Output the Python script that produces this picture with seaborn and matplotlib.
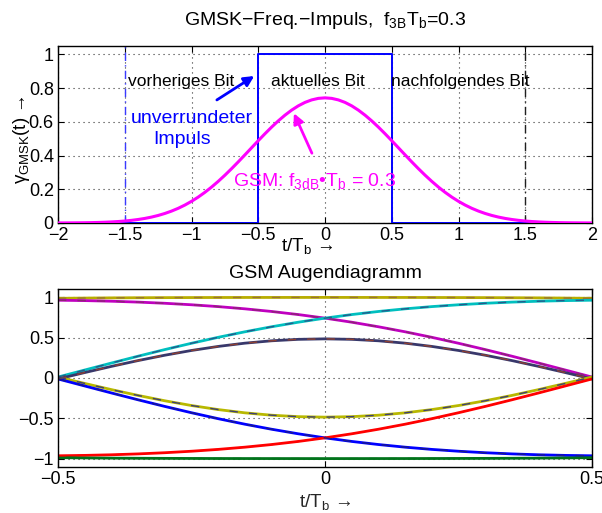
import numpy as np
import pandas as pd
import matplotlib
matplotlib.use("Agg")
import matplotlib.pyplot as plt
import seaborn as sns

# ---------------- data ----------------
pulse_t = [-2.0, -1.95, -1.9, -1.85, -1.8, -1.75, -1.7, -1.65, -1.6, -1.55,
           -1.5, -1.45, -1.4, -1.35, -1.3, -1.25, -1.2, -1.15, -1.1, -1.05,
           -1.0, -0.95, -0.9, -0.85, -0.8, -0.75, -0.7, -0.65, -0.6, -0.55,
           -0.5, -0.45, -0.4, -0.35, -0.3, -0.25, -0.2, -0.15, -0.1, -0.05,
           0.0, 0.05, 0.1, 0.15, 0.2, 0.25, 0.3, 0.35, 0.4, 0.45,
           0.5, 0.55, 0.6, 0.65, 0.7, 0.75, 0.8, 0.85, 0.9, 0.95,
           1.0, 1.05, 1.1, 1.15, 1.2, 1.25, 1.3, 1.35, 1.4, 1.45,
           1.5, 1.55, 1.6, 1.65, 1.7, 1.75, 1.8, 1.85, 1.9, 1.95, 2.0]
pulse_y = [0.0003, 0.0005, 0.0008, 0.0011, 0.0016, 0.0023, 0.0033, 0.0046, 0.0064, 0.0087,
           0.0118, 0.0157, 0.0208, 0.0271, 0.0350, 0.0447, 0.0565, 0.0705, 0.0870, 0.1063,
           0.1285, 0.1536, 0.1818, 0.2129, 0.2469, 0.2834, 0.3221, 0.3625, 0.4041, 0.4462,
           0.4882, 0.5293, 0.5688, 0.6058, 0.6396, 0.6695, 0.6950, 0.7154, 0.7302, 0.7393,
           0.7424, 0.7393, 0.7302, 0.7154, 0.6950, 0.6695, 0.6396, 0.6058, 0.5688, 0.5293,
           0.4882, 0.4462, 0.4041, 0.3625, 0.3221, 0.2834, 0.2469, 0.2129, 0.1818, 0.1536,
           0.1285, 0.1063, 0.0870, 0.0705, 0.0565, 0.0447, 0.0350, 0.0271, 0.0208, 0.0157,
           0.0118, 0.0087, 0.0064, 0.0046, 0.0033, 0.0023, 0.0016, 0.0011, 0.0008, 0.0005, 0.0003]

rect_t = [-2.0, -0.5, -0.5, 0.5, 0.5, 2.0]
rect_y = [0.0, 0.0, 1.0, 1.0, 0.0, 0.0]
bit_bounds = [-1.5, 1.5]

eye_t = [-0.5, -0.45, -0.4, -0.35, -0.3, -0.25, -0.2, -0.15, -0.1, -0.05, 0.0,
         0.05, 0.1, 0.15, 0.2, 0.25, 0.3, 0.35, 0.4, 0.45, 0.5]
eye_ppp = [0.9882, 0.9912, 0.9937, 0.9954, 0.9967, 0.9976, 0.9984, 0.9988, 0.9990, 0.9992, 0.9994,
           0.9992, 0.9990, 0.9988, 0.9984, 0.9976, 0.9967, 0.9954, 0.9937, 0.9912, 0.9882]
eye_ppm = [0.9646, 0.9598, 0.9521, 0.9412, 0.9267, 0.9082, 0.8854, 0.8578, 0.8250, 0.7866, 0.7424,
           0.6920, 0.6354, 0.5730, 0.5046, 0.4308, 0.3525, 0.2704, 0.1855, 0.0988, 0.0118]
eye_mpp = [0.0118, 0.0988, 0.1855, 0.2704, 0.3525, 0.4308, 0.5046, 0.5730, 0.6354, 0.6920, 0.7424,
           0.7866, 0.8250, 0.8578, 0.8854, 0.9082, 0.9267, 0.9412, 0.9521, 0.9598, 0.9646]
eye_mpm = [-0.0118, 0.0674, 0.1439, 0.2162, 0.2825, 0.3414, 0.3916, 0.4320, 0.4614, 0.4794, 0.4854,
           0.4794, 0.4614, 0.4320, 0.3916, 0.3414, 0.2825, 0.2162, 0.1439, 0.0674, -0.0118]
eye_pmp = [0.0118, -0.0674, -0.1439, -0.2162, -0.2825, -0.3414, -0.3916, -0.4320, -0.4614, -0.4794, -0.4854,
           -0.4794, -0.4614, -0.4320, -0.3916, -0.3414, -0.2825, -0.2162, -0.1439, -0.0674, 0.0118]
eye_pmm = [-0.0118, -0.0988, -0.1855, -0.2704, -0.3525, -0.4308, -0.5046, -0.5730, -0.6354, -0.6920, -0.7424,
           -0.7866, -0.8250, -0.8578, -0.8854, -0.9082, -0.9267, -0.9412, -0.9521, -0.9598, -0.9646]
eye_mmp = [-0.9646, -0.9598, -0.9521, -0.9412, -0.9267, -0.9082, -0.8854, -0.8578, -0.8250, -0.7866, -0.7424,
           -0.6920, -0.6354, -0.5730, -0.5046, -0.4308, -0.3525, -0.2704, -0.1855, -0.0988, -0.0118]
eye_mmm = [-0.9882, -0.9912, -0.9937, -0.9954, -0.9967, -0.9976, -0.9984, -0.9988, -0.9990, -0.9992, -0.9994,
           -0.9992, -0.9990, -0.9988, -0.9984, -0.9976, -0.9967, -0.9954, -0.9937, -0.9912, -0.9882]

top_xticks = [-2, -1.5, -1, -0.5, 0, 0.5, 1, 1.5, 2]
top_xticklabels = ["\u22122", "\u22121.5", "\u22121", "\u22120.5", "0", "0.5", "1", "1.5", "2"]
top_yticks = [0, 0.2, 0.4, 0.6, 0.8, 1]
top_yticklabels = ["0", "0.2", "0.4", "0.6", "0.8", "1"]
bot_xticks = [-0.5, 0, 0.5]
bot_xticklabels = ["\u22120.5", "0", "0.5"]
bot_yticks = [-1, -0.5, 0, 0.5, 1]
bot_yticklabels = ["\u22121", "\u22120.5", "0", "0.5", "1"]

# ---------------- style ----------------
sns.set_style("white")
plt.rcParams['font.family'] = ['Liberation Sans', 'DejaVu Sans']
plt.rcParams['mathtext.fontset'] = 'custom'
plt.rcParams['mathtext.rm'] = 'Liberation Sans'
plt.rcParams['mathtext.it'] = 'Liberation Sans:italic'
plt.rcParams['mathtext.sf'] = 'Liberation Sans'
plt.rcParams['text.color'] = 'black'

FS = 13      # ticks / axis labels
FT = 14      # titles
FB = 14      # coloured annotations
FN = 12.5    # black annotations

fig = plt.figure(figsize=(6.02, 5.13), dpi=100)
W, H = 602.0, 513.0
ax1 = fig.add_axes([58 / W, 1 - 223 / H, (592 - 58) / W, (223 - 46) / H])
ax2 = fig.add_axes([58 / W, 1 - 466.7 / H, (592 - 58) / W, (466.7 - 289.3) / H])


def matlab_axes(ax, xticks, xlabels, yticks, ylabels):
    ax.set_xticks(xticks)
    ax.set_xticklabels(xlabels, fontsize=FS)
    ax.set_yticks(yticks)
    ax.set_yticklabels(ylabels, fontsize=FS)
    ax.tick_params(direction='in', length=4, width=0.8, top=True, right=True,
                   bottom=True, left=True, colors='black', pad=3)
    ax.grid(True, linestyle=(0, (1, 3.5)), color='#333333', linewidth=0.8)
    for s in ax.spines.values():
        s.set_color('black')
        s.set_linewidth(1.0)
        s.set_visible(True)


# ---------------- top panel ----------------
pulse_df = pd.DataFrame({'t': pulse_t, 'g': pulse_y})
rect_df = pd.DataFrame({'t': rect_t, 'r': rect_y})
for xb, col in zip(bit_bounds, ['#3a3aff', '#202020']):
    ax1.axvline(xb, color=col, linestyle=(0, (6, 3, 1, 3)), linewidth=1.0, zorder=2)
sns.lineplot(data=rect_df, x='t', y='r', ax=ax1, sort=False, estimator=None,
             color='#0000ff', linewidth=1.4, zorder=3)
sns.lineplot(data=pulse_df, x='t', y='g', ax=ax1, sort=False, estimator=None,
             color='#ff00ff', linewidth=2.2, zorder=4)
ax1.set_xlim(-2, 2)
ax1.set_ylim(0, 1.05)
matlab_axes(ax1, top_xticks, top_xticklabels, top_yticks, top_yticklabels)
ax1.set_xlabel('')
ax1.set_ylabel('')
ax1.set_title('GMSK\u2212Freq.\u2212Impuls,  f$_{\\mathrm{3B}}$T$_{\\mathrm{b}}$=0.3',
              fontsize=FT, pad=15)
fig.text(22 / W, 1 - 140 / H, '\u03b3$_{\\mathrm{GMSK}}$(t) \u2192', rotation=90,
         ha='center', va='center', fontsize=FS + 0.5)
fig.text(307 / W, 1 - 246 / H, 't/T$_{\\mathrm{b}}$ \u2192', ha='center', va='center',
         fontsize=FS + 0.5)

ax1.text(-1.077, 0.838, 'vorheriges Bit', ha='center', va='center', fontsize=FN)
ax1.text(-0.05, 0.838, 'aktuelles Bit', ha='center', va='center', fontsize=FN)
ax1.text(1.01, 0.838, 'nachfolgendes Bit', ha='center', va='center', fontsize=FN)
ax1.text(-0.997, 0.617, 'unverrundeter', ha='center', va='center', fontsize=FB,
         color='#0000ff')
ax1.text(-1.07, 0.493, 'Impuls', ha='center', va='center', fontsize=FB,
         color='#0000ff')
ax1.text(-0.075, 0.247, 'GSM: f$_{\\mathrm{3dB}}$\u2022T$_{\\mathrm{b}}$ = 0.3',
         ha='center', va='center', fontsize=FB, color='#ff00ff')
ax1.annotate('', xy=(-0.53, 0.872), xytext=(-0.81, 0.73),
             arrowprops=dict(arrowstyle='-|>', color='#0000ff', lw=2,
                             mutation_scale=15, shrinkA=0, shrinkB=0))
ax1.annotate('', xy=(-0.233, 0.651), xytext=(-0.098, 0.414),
             arrowprops=dict(arrowstyle='-|>', color='#ff00ff', lw=2,
                             mutation_scale=15, shrinkA=0, shrinkB=0))

# ---------------- bottom panel (eye diagram) ----------------
names = ['ppp', 'ppm', 'mpp', 'mpm', 'pmp', 'pmm', 'mmp', 'mmm']
eye_df = pd.DataFrame({'t': eye_t * 8,
                       'y': eye_ppp + eye_ppm + eye_mpp + eye_mpm +
                            eye_pmp + eye_pmm + eye_mmp + eye_mmm,
                       'trace': sum([[n] * len(eye_t) for n in names], [])})
main_pal = {'ppp': (0.72, 0.68, 0.0), 'ppm': (0.75, 0.0, 0.75), 'mpp': (0.0, 0.75, 0.75),
            'mpm': (0.22, 0.22, 0.42), 'pmp': (0.72, 0.72, 0.0), 'pmm': (0.0, 0.0, 1.0),
            'mmp': (1.0, 0.0, 0.0), 'mmm': (0.0, 0.45, 0.1)}
over_pal = {'ppp': (0.6, 0.45, 0.2), 'ppm': (0.55, 0.15, 0.45), 'mpp': (0.15, 0.35, 0.55),
            'mpm': (0.55, 0.25, 0.2), 'pmp': (0.25, 0.25, 0.45), 'pmm': (0.1, 0.1, 0.55),
            'mmp': (1.0, 0.0, 0.0), 'mmm': (0.0, 0.45, 0.1)}
sns.lineplot(data=eye_df, x='t', y='y', hue='trace', palette=main_pal, ax=ax2,
             estimator=None, units='trace', linewidth=2.0, legend=False)
sns.lineplot(data=eye_df, x='t', y='y', hue='trace', palette=over_pal, ax=ax2,
             estimator=None, units='trace', linewidth=1.0, legend=False)
for ln in ax2.get_lines()[-8:]:
    ln.set_linestyle((0, (6, 8)))
ax2.set_xlim(-0.5, 0.5)
ax2.set_ylim(-1.1, 1.1)
matlab_axes(ax2, bot_xticks, bot_xticklabels, bot_yticks, bot_yticklabels)
ax2.set_ylabel('')
ax2.set_xlabel('t/T$_{\\mathrm{b}}$ \u2192', fontsize=FS + 0.5, labelpad=3)
ax2.set_title('GSM Augendiagramm', fontsize=FT, pad=8)

fig.savefig('out.png', dpi=100)
